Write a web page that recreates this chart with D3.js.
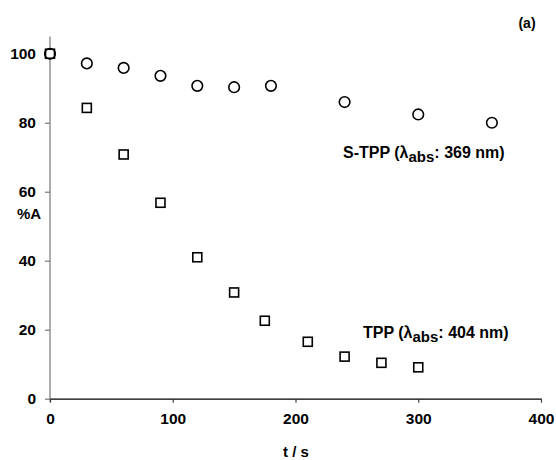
<!DOCTYPE html>
<html>
<head>
<meta charset="utf-8">
<script src="https://cdn.jsdelivr.net/npm/d3@7"></script>
<style>
  body { margin: 0; background: #fff; }
  text { font-family: "Liberation Sans", Arial, sans-serif; font-weight: bold; fill: #000; }
</style>
</head>
<body>
<svg id="chart" width="556" height="460"></svg>
<script>
// S-TPP (circles)
const stppTime = [0, 30, 60, 90, 120, 150, 180, 240, 300, 360];
const stppA = [100, 97.2, 95.9, 93.6, 90.7, 90.3, 90.7, 86.0, 82.4, 80.0];
// TPP (squares)
const tppTime = [0, 30, 60, 90, 120, 150, 175, 210, 240, 270, 300];
const tppA = [100, 84.3, 70.8, 56.8, 41.0, 30.8, 22.6, 16.5, 12.2, 10.4, 9.1];

const xTicks = [0, 100, 200, 300, 400];
const yTicks = [0, 20, 40, 60, 80, 100];

const svg = d3.select("#chart");

const x = d3.scaleLinear().domain([0, 400]).range([50, 541]);
const y = d3.scaleLinear().domain([0, 105]).range([398.7, 36.5]);

// y axis (grey line)
const yAxis = svg.append("g")
    .attr("transform", "translate(" + x(0) + ",0)")
    .call(d3.axisLeft(y).tickValues(yTicks).tickSize(5).tickPadding(9).tickSizeOuter(0));
yAxis.select(".domain").remove();
yAxis.selectAll("line").attr("stroke", "#808080").attr("stroke-width", 1.3);
yAxis.append("line")
    .attr("x1", 0).attr("x2", 0)
    .attr("y1", y(105)).attr("y2", y(0) + 3)
    .attr("stroke", "#808080").attr("stroke-width", 1.3);
yAxis.selectAll("text")
    .style("font-size", "15.5px")
    .style("font-family", "'Liberation Sans', Arial, sans-serif")
    .style("font-weight", "bold")
    .attr("fill", "#000");

// x axis (black line)
const xAxis = svg.append("g")
    .attr("transform", "translate(0," + y(0) + ")")
    .call(d3.axisBottom(x).tickValues(xTicks).tickSize(4).tickPadding(10).tickSizeOuter(0));
xAxis.select(".domain").attr("stroke", "#000").attr("stroke-width", 1.3);
xAxis.selectAll("line").attr("stroke", "#404040").attr("stroke-width", 1.2);
xAxis.selectAll("text")
    .style("font-size", "15.5px")
    .style("font-family", "'Liberation Sans', Arial, sans-serif")
    .style("font-weight", "bold")
    .attr("fill", "#000");

// axis titles
svg.append("text")
    .attr("x", 29).attr("y", 219)
    .attr("text-anchor", "middle")
    .style("font-size", "15px")
    .text("%A");

svg.append("text")
    .attr("x", 296).attr("y", 457)
    .attr("text-anchor", "middle")
    .style("font-size", "15px")
    .text("t / s");

svg.append("text")
    .attr("x", 527).attr("y", 28)
    .attr("text-anchor", "middle")
    .style("font-size", "14px")
    .text("(a)");

// markers
const circles = stppTime.map((t, i) => ({ t: t, a: stppA[i] }));
const squares = tppTime.map((t, i) => ({ t: t, a: tppA[i] }));

svg.append("g").selectAll("rect")
    .data(squares)
    .enter().append("rect")
    .attr("x", d => x(d.t) - 4.5)
    .attr("y", d => y(d.a) - 4.5)
    .attr("width", 9)
    .attr("height", 9)
    .attr("fill", "#fff")
    .attr("stroke", "#000")
    .attr("stroke-width", 1.6);

svg.append("g").selectAll("circle")
    .data(circles)
    .enter().append("circle")
    .attr("cx", d => x(d.t))
    .attr("cy", d => y(d.a))
    .attr("r", 5.3)
    .attr("fill", "none")
    .attr("stroke", "#000")
    .attr("stroke-width", 1.6);

// series labels
function seriesLabel(xPos, yPos, name, nm) {
    const t = svg.append("text")
        .attr("x", xPos).attr("y", yPos)
        .style("font-size", "16px");
    t.append("tspan").text(name + " (\u03bb");
    t.append("tspan").attr("dy", 4).style("font-size", "15px").text("abs");
    t.append("tspan").attr("dy", -4).text(": " + nm + " nm)");
}
seriesLabel(343, 158, "S-TPP", "369");
seriesLabel(363, 338, "TPP", "404");
</script>
</body>
</html>
